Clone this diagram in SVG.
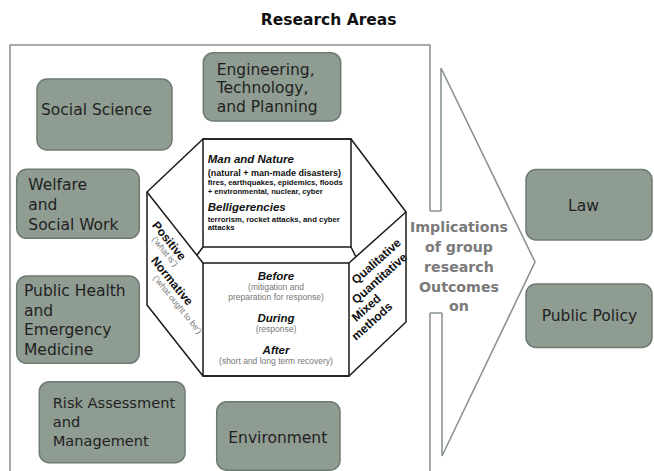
<svg xmlns="http://www.w3.org/2000/svg" width="654" height="471" viewBox="0 0 654 471">
  <style>
    .area rect { fill: #8f9c92; stroke: #6d7b72; stroke-width: 1.5; }
    .area text { font-family: "DejaVu Sans", "Liberation Sans", sans-serif; font-size: 15.5px; fill: #1f1f1f; }
    .frame { fill: none; stroke: #8a958e; stroke-width: 1.6; }
    .prism { fill: #ffffff; stroke: #1a1a1a; stroke-width: 1.5; stroke-linejoin: round; }
    .edge { fill: none; stroke: #1a1a1a; stroke-width: 1.5; }
    .head { font-family: "Liberation Sans", Arial, sans-serif; font-weight: bold; font-style: italic; font-size: 11.5px; fill: #111; }
    .sub { font-family: "Liberation Sans", Arial, sans-serif; font-weight: bold; fill: #111; }
    .note { font-family: "Liberation Sans", Arial, sans-serif; font-size: 8.5px; fill: #777; }
    .side { font-family: "Liberation Sans", Arial, sans-serif; font-weight: bold; font-size: 12px; fill: #111; }
    .impl { font-family: "DejaVu Sans", "Liberation Sans", sans-serif; font-weight: bold; font-size: 14.2px; fill: #7a7a7a; text-anchor: middle; }
  </style>

  <rect width="654" height="471" fill="#ffffff"/>

  <!-- title -->
  <text x="328.7" y="25" font-family="DejaVu Sans, Liberation Sans, sans-serif" font-weight="bold" font-size="15.5" fill="#111" text-anchor="middle">Research Areas</text>

  <!-- outer frame of the research areas, open where the label sits -->
  <path class="frame" d="M430,211 V45 H10 V471 M430,313 V471"/>

  <!-- connectors: the outcome arrow -->
  <g id="connectors">
    <path class="frame" d="M441,211 V68 L535,262 L442,456 V313"/>
    <path class="frame" d="M430,211 H441 M430,313 H442"/>
  </g>

  <!-- research area nodes -->
  <g id="social-science" class="area">
    <rect x="37" y="79" width="135" height="71" rx="10"/>
    <text x="41" y="115">Social Science</text>
  </g>
  <g id="engineering" class="area">
    <rect x="203.3" y="52.7" width="137.4" height="68.3" rx="10"/>
    <text x="216.7" y="75">Engineering,</text>
    <text x="216.7" y="93.3">Technology,</text>
    <text x="216.7" y="111.7">and Planning</text>
  </g>
  <g id="welfare" class="area">
    <rect x="16.7" y="169.3" width="122.6" height="69" rx="10"/>
    <text x="28.3" y="189.5">Welfare</text>
    <text x="28.3" y="209.5">and</text>
    <text x="28.3" y="229.5">Social Work</text>
  </g>
  <g id="public-health" class="area">
    <rect x="16.7" y="276" width="122.6" height="87.3" rx="10"/>
    <text x="24" y="296">Public Health</text>
    <text x="24" y="315.5">and</text>
    <text x="24" y="335">Emergency</text>
    <text x="24" y="354.5">Medicine</text>
  </g>
  <g id="risk" class="area">
    <rect x="39.3" y="381.7" width="145.7" height="81" rx="10"/>
    <text x="52.7" y="407.5" style="font-size:14.6px">Risk Assessment</text>
    <text x="52.7" y="427" style="font-size:14.6px">and</text>
    <text x="52.7" y="446" style="font-size:14.6px">Management</text>
  </g>
  <g id="environment" class="area">
    <rect x="216.7" y="401.7" width="123.3" height="68.5" rx="10"/>
    <text x="228.3" y="443.3">Environment</text>
  </g>

  <!-- hexagonal prism in the centre -->
  <g id="prism">
    <polygon class="prism" points="203,139 351,139 406,212 406,322 349,376 203,376 147,305 147,192"/>
    <rect class="edge" x="203" y="139" width="148" height="108"/>
    <rect class="edge" x="203" y="263" width="146" height="113"/>
    <path class="edge" d="M147,192 L203,263 M406,212 L349,263 M203,247 L197,255 M351,247 L356,257"/>

    <!-- top face: event types -->
    <text class="head" x="207.7" y="163">Man and Nature</text>
    <text class="sub" x="207.7" y="175.7" font-size="9">(natural + man-made disasters)</text>
    <text class="sub" x="207.7" y="185" font-size="7.7">fires, earthquakes, epidemics, floods</text>
    <text class="sub" x="207.7" y="194" font-size="7.7">+ environmental, nuclear, cyber</text>
    <text class="head" x="207.7" y="211">Belligerencies</text>
    <text class="sub" x="207.7" y="221.7" font-size="7.8">terrorism, rocket attacks, and cyber</text>
    <text class="sub" x="207.7" y="230" font-size="7.8">attacks</text>

    <!-- front face: phases -->
    <g text-anchor="middle">
      <text class="head" x="276" y="280">Before</text>
      <text class="note" x="276" y="290">(mitigation and</text>
      <text class="note" x="276" y="300">preparation for response)</text>
      <text class="head" x="276" y="321.7">During</text>
      <text class="note" x="276" y="331.7">(response)</text>
      <text class="head" x="276" y="354">After</text>
      <text class="note" x="276" y="364.3">(short and long term recovery)</text>
    </g>

    <!-- left face: approaches -->
    <text class="side" transform="translate(151.5,225.5) rotate(51)">Positive</text>
    <text class="note" font-size="8" transform="translate(151.4,239.4) rotate(51)">(‘what is’)</text>
    <text class="side" transform="translate(150.4,260.7) rotate(51)">Normative</text>
    <text class="note" font-size="8" transform="translate(152.6,278.2) rotate(51)">(‘what ought to be’)</text>

    <!-- right face: methods -->
    <g>
      <text class="side" font-size="11.5" transform="translate(356.1,284.7) rotate(-41.8)">Qualitative</text>
      <text class="side" font-size="11.5" transform="translate(356.3,304.4) rotate(-41.8)">Quantitative</text>
      <text class="side" font-size="11.5" transform="translate(356.3,322.2) rotate(-41.8)">Mixed</text>
      <text class="side" font-size="11.5" transform="translate(356,341) rotate(-41.8)">methods</text>
    </g>
  </g>

  <!-- label inside the arrow -->
  <g id="implications">
    <text class="impl" x="459" y="231.7">Implications</text>
    <text class="impl" x="459" y="251.7">of group</text>
    <text class="impl" x="459" y="271.7">research</text>
    <text class="impl" x="459" y="291.7">Outcomes</text>
    <text class="impl" x="459" y="310.7">on</text>
  </g>

  <!-- outcome nodes -->
  <g id="law" class="area">
    <rect x="526" y="169.5" width="126" height="70.5" rx="10"/>
    <text x="583.5" y="210.5" text-anchor="middle">Law</text>
  </g>
  <g id="public-policy" class="area">
    <rect x="526" y="284" width="126" height="63.5" rx="10"/>
    <text x="541.7" y="321">Public Policy</text>
  </g>
</svg>
